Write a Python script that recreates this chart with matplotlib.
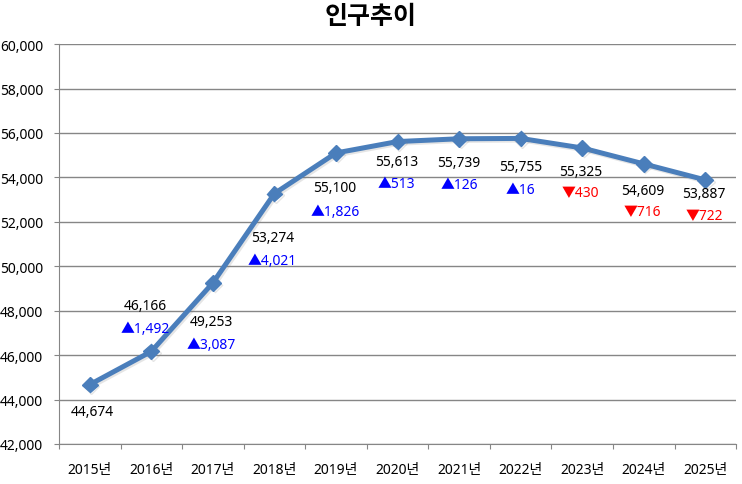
import matplotlib
matplotlib.use("Agg")
import matplotlib.pyplot as plt
import matplotlib.patheffects as pe
from matplotlib.ticker import FuncFormatter, FixedLocator, NullFormatter

plt.rcParams['font.family'] = ['Noto Sans', 'Noto Sans CJK KR', 'DejaVu Sans']

# ---- data ----
years = ['2015년', '2016년', '2017년', '2018년', '2019년', '2020년',
         '2021년', '2022년', '2023년', '2024년', '2025년']
population = [44674, 46166, 49253, 53274, 55100, 55613, 55739, 55755, 55325, 54609, 53887]
changes = [None, 1492, 3087, 4021, 1826, 513, 126, 16, -430, -716, -722]

# ---- layout (label positions, data units) ----
value_label_y = [43440, 48255, 47500, 51315, 53565, 54735, 54690, 54510, 54285, 53430, 53295]
change_label_y = [None, 47220, 46470, 50280, 52485, 53745, 53700, 53475, 53295, 52440, 52260]
label_dx = [0.04, -0.1, -0.03, -0.03, -0.02, -0.02, 0.0, 0.0, -0.03, -0.02, -0.02]

fig = plt.figure(figsize=(7.42, 4.85), dpi=100)
ax = fig.add_axes([0.0795, 0.0825, 0.9125, 0.8245])

x = list(range(len(years)))
line_color = '#4A7EBB'
ax.plot(x, population, color=line_color, lw=3.6, marker='D', ms=8,
        mfc=line_color, mec=line_color, zorder=3,
        path_effects=[pe.SimpleLineShadow(offset=(1.2, -1.2), shadow_color='gray', alpha=0.2),
                      pe.Normal()])

ax.set_xlim(-0.5, len(years) - 0.5)
ax.set_ylim(42000, 60000)
ax.set_yticks(range(42000, 60001, 2000))
ax.yaxis.set_major_formatter(FuncFormatter(lambda v, p: f"{int(v):,}"))
ax.grid(axis='y', color='#868686', lw=1.0)
ax.set_axisbelow(True)

# x ticks at category boundaries, labels at centers
ax.xaxis.set_major_locator(FixedLocator([i - 0.5 for i in range(len(years) + 1)]))
ax.xaxis.set_major_formatter(NullFormatter())
ax.xaxis.set_minor_locator(FixedLocator(x))
ax.set_xticklabels(years, minor=True)
ax.tick_params(axis='x', which='minor', length=0, pad=13, labelsize=10)
ax.tick_params(axis='x', which='major', length=3.6, color='#868686', direction='out')
ax.tick_params(axis='y', length=3.6, color='#868686', labelsize=10, pad=8)

for s in ['top', 'right']:
    ax.spines[s].set_visible(False)
for s in ['left', 'bottom']:
    ax.spines[s].set_color('#868686')

for i, (v, c) in enumerate(zip(population, changes)):
    ax.text(i + label_dx[i], value_label_y[i], f"{v:,}", ha='center', va='center',
            fontsize=10, color='black')
    if c is not None:
        if c >= 0:
            s, col = f"▲{c:,}", '#0000FF'
        else:
            s, col = f"▼{abs(c):,}", '#FF0000'
        ax.text(i + label_dx[i], change_label_y[i], s, ha='center', va='center',
                fontsize=10, color=col)

fig.text(0.5, 0.965, '인구추이', ha='center', va='center', fontsize=18, fontweight='bold',
         family=['Noto Sans CJK KR', 'DejaVu Sans'])

fig.savefig('out.png', dpi=100)
